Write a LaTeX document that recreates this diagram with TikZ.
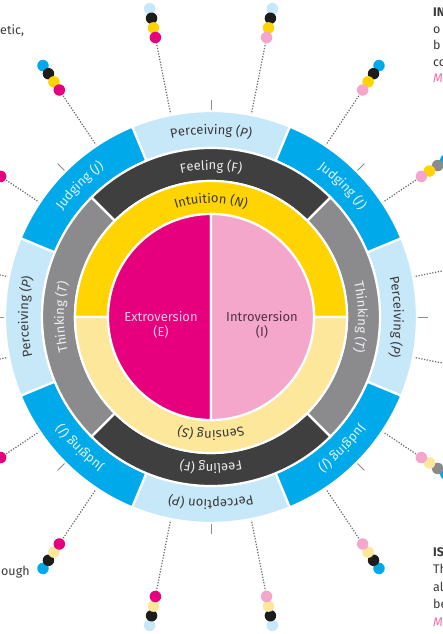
\documentclass[tikz,border=0pt]{standalone}
\usepackage{fontspec}
\setmainfont{Fira Sans}
\usetikzlibrary{decorations.text}

\definecolor{mbtiMagenta}{HTML}{E6007E}
\definecolor{mbtiPink}{HTML}{F4A7CB}
\definecolor{mbtiGold}{HTML}{FFD400}
\definecolor{mbtiCream}{HTML}{FDE79B}
\definecolor{mbtiDark}{HTML}{3F3F3F}
\definecolor{mbtiGray}{HTML}{8B8B8D}
\definecolor{mbtiBlue}{HTML}{00AAEA}
\definecolor{mbtiSky}{HTML}{C6E8F9}
\definecolor{mbtiBlack}{HTML}{1C1C1C}
\definecolor{mbtiInk}{HTML}{3A3A3A}
\definecolor{mbtiRose}{HTML}{EC6FAE}

\newcommand\ringfont{\fontsize{13}{15}\selectfont}
\newcommand\ringit{\fontsize{13}{15}\selectfont\itshape}

% annular piece: colour, from angle, to angle, inner radius, outer radius
\newcommand\ringpiece[5]{%
  \fill[ringpart, fill=#1] ({#2}:#4) arc[start angle={#2}, end angle={#3}, radius=#4]
    -- ({#3}:#5) arc[start angle={#3}, end angle={#2}, radius=#5] -- cycle;}

% label bent round the rings: centre angle, baseline radius, half span, text, colour
\newcommand\ringlabel[5]{%
  \path[ringtext={#4}{#5}] ({#1+#3}:#2) arc[start angle={#1+#3}, end angle={#1-#3}, radius=#2];}

\tikzset{
  ringpart/.style={draw=white, line width=2.2pt},
  ringtext/.style 2 args={decorate, decoration={text along path, text={|\ringfont|#1},
      text align=center, text color=#2}},
  typedot/.style={circle, minimum size=11.5pt, inner sep=0pt, fill=#1},
  leader/.style={mbtiGray!75!black, line width=1.2pt, dash pattern=on 1.2pt off 1.6pt},
  ringtick/.style={mbtiGray, line width=0.8pt},
  fragment/.style={anchor=base west, inner sep=0pt, text=mbtiInk,
      font=\fontsize{12.5}{15}\selectfont},
}

\begin{document}
\begin{tikzpicture}[x=1pt, y=1pt]
\useasboundingbox (-211,-317) rectangle (232,317);

% the sixteen types: leader line out to four dots
\foreach \ang/\dist/\typ/\ca/\cb/\cc/\cd in {
   11.25/253/intp/mbtiPink/mbtiGold/mbtiGray/mbtiSky,
   33.75/253/intj/mbtiPink/mbtiGold/mbtiGray/mbtiBlue,
   56.25/273/infj/mbtiPink/mbtiGold/mbtiBlack/mbtiBlue,
   78.75/285/infp/mbtiPink/mbtiGold/mbtiBlack/mbtiSky,
  101.25/285/enfp/mbtiMagenta/mbtiGold/mbtiBlack/mbtiSky,
  123.75/273/enfj/mbtiMagenta/mbtiGold/mbtiBlack/mbtiBlue,
  146.25/253/entj/mbtiMagenta/mbtiGold/mbtiGray/mbtiBlue,
  168.75/253/entp/mbtiMagenta/mbtiGold/mbtiGray/mbtiSky,
  191.25/253/estp/mbtiMagenta/mbtiCream/mbtiGray/mbtiSky,
  213.75/253/estj/mbtiMagenta/mbtiCream/mbtiGray/mbtiBlue,
  236.25/273/esfj/mbtiMagenta/mbtiCream/mbtiBlack/mbtiBlue,
  258.75/285/esfp/mbtiMagenta/mbtiCream/mbtiBlack/mbtiSky,
  281.25/285/isfp/mbtiPink/mbtiCream/mbtiBlack/mbtiSky,
  303.75/273/isfj/mbtiPink/mbtiCream/mbtiBlack/mbtiBlue,
  326.25/253/istj/mbtiPink/mbtiCream/mbtiGray/mbtiBlue,
  348.75/253/istp/mbtiPink/mbtiCream/mbtiGray/mbtiSky}
{
  \coordinate (\typ-0) at (\ang:206);
  \foreach \k/\col in {4/\cd, 3/\cc, 2/\cb, 1/\ca}
    \node[typedot=\col] (\typ-\k) at (\ang:{\dist+9.8*(\k-1)}) {};
  \draw[leader] (\typ-0) -- (\typ-1);
}

\foreach \a in {0,45,...,315}
  \draw[ringtick] (\a:206) -- (\a:217);

% outer ring: perceiving / judging
\foreach \a in {0,90,180,270}
  {\ringpiece{mbtiSky}{\a-22.5}{\a+22.5}{169}{206}}
\foreach \a in {45,135,225,315}
  {\ringpiece{mbtiBlue}{\a-22.5}{\a+22.5}{169}{206}}

% feeling / thinking
\ringpiece{mbtiDark}{45}{135}{136}{169}
\ringpiece{mbtiDark}{225}{315}{136}{169}
\ringpiece{mbtiGray}{135}{225}{136}{169}
\ringpiece{mbtiGray}{-45}{45}{136}{169}

% intuition / sensing
\ringpiece{mbtiGold}{0}{180}{103}{136}
\ringpiece{mbtiCream}{180}{360}{103}{136}

% extroversion / introversion
\fill[ringpart, fill=mbtiMagenta] (90:103) arc[start angle=90, end angle=270, radius=103] -- cycle;
\fill[ringpart, fill=mbtiPink] (-90:103) arc[start angle=-90, end angle=90, radius=103] -- cycle;

\ringlabel{90}{183}{22}{Perceiving (|\ringit|P|\ringfont|)}{mbtiInk}
\ringlabel{180}{183}{22}{Perceiving (|\ringit|P|\ringfont|)}{mbtiInk}
\ringlabel{0}{183}{22}{Perceiving (|\ringit|P|\ringfont|)}{mbtiInk}
\ringlabel{270}{183}{22}{Perception (|\ringit|P|\ringfont|)}{mbtiInk}
\foreach \a in {45,135,225,315}
  {\ringlabel{\a}{183}{22}{Judging (|\ringit|J|\ringfont|)}{mbtiSky!50!white}}

\ringlabel{90}{147}{40}{Feeling (F)}{white!85!gray}
\ringlabel{270}{147}{40}{Feeling (F)}{white!85!gray}
\ringlabel{180}{147}{40}{Thinking (|\ringit|T|\ringfont|)}{white!88!gray}
\ringlabel{0}{147}{40}{Thinking (|\ringit|T|\ringfont|)}{white!88!gray}

\ringlabel{90}{114}{60}{Intuition (|\ringit|N|\ringfont|)}{mbtiInk}
\ringlabel{270}{114}{60}{Sensing (|\ringit|S|\ringfont|)}{mbtiInk}

\node[align=center, font=\ringfont, text=mbtiPink!60!white] (extro) at (-50,-8) {Extroversion\\(E)};
\node[align=center, font=\ringfont, text=mbtiInk!85!mbtiMagenta] (intro) at (51,-8) {Introversion\\(I)};

% neighbouring text blocks
\node[fragment] (textA) at (-211,282) {etic,};
\node[fragment] (textB) at (-210,-258) {ough};
\foreach \txt [count=\i] in {{\textbf{IN}}, o, b, co, {\textcolor{mbtiRose}{\itshape M}}}
  \node[fragment] (inLine\i) at (222,{300-16.5*(\i-1)}) {\txt};
\foreach \txt [count=\i] in {{\textbf{IS}}, Th, al, be, {\textcolor{mbtiRose}{\itshape M}}}
  \node[fragment] (isLine\i) at (222,{-239-17.5*(\i-1)}) {\txt};
\end{tikzpicture}
\end{document}
